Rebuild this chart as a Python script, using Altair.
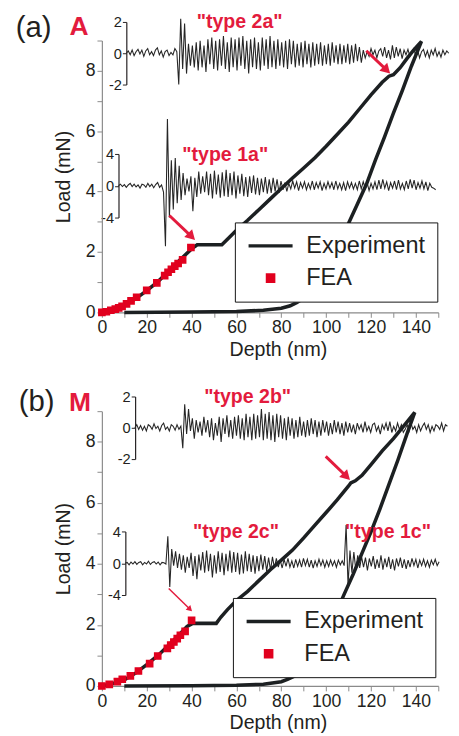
import altair as alt
import pandas as pd

FONT = "Liberation Sans"
INK = "#231f20"
CURVE = "#1c2022"
RED = "#e31b3d"
SQ_RED = "#e1001e"
AXIS_GREY = "#8a8a8a"

# ---------------- panel (a) : material A ----------------
a_load_depth = [0, 3, 6, 10, 15, 20, 25, 30, 35, 40, 42.5, 53.5, 57, 60, 65, 70, 75, 80, 85, 90,
                95, 100, 105, 110, 115, 120, 125, 128, 130, 133, 136, 139, 142.5]
a_load_load = [0, 0.03, 0.09, 0.22, 0.45, 0.72, 1.02, 1.38, 1.75, 2.1, 2.24, 2.24, 2.5, 2.72, 3.05,
               3.4, 3.75, 4.1, 4.45, 4.78, 5.12, 5.5, 5.9, 6.3, 6.75, 7.2, 7.62, 7.82, 7.87, 8.1,
               8.4, 8.68, 8.97]
a_unload_depth = [142.5, 138, 134, 130, 126, 122, 118, 114, 110, 106, 102, 98, 94, 90, 87, 84, 80,
                  72, 60, 40, 10]
a_unload_load = [8.97, 8.15, 7.35, 6.6, 5.8, 5.05, 4.25, 3.6, 2.95, 2.35, 1.8, 1.25, 0.8, 0.48,
                 0.33, 0.22, 0.14, 0.07, 0.03, 0.01, 0.0]
a_fea_depth = [0, 2, 4, 6, 7.5, 9, 11, 13, 15.5, 20, 24.5, 28, 29.5, 31, 32.5, 34, 36, 39.7]
a_fea_load = [0, 0.02, 0.07, 0.11, 0.15, 0.2, 0.28, 0.38, 0.5, 0.73, 0.98, 1.22, 1.33, 1.43,
              1.53, 1.62, 1.74, 2.15]

# acoustic-emission traces (inset units), sampled on a regular depth grid
a_type2_start, a_type2_step = 10.9, 0.866
a_type2_amp = [
    0.0, 0.15, -0.1, 0.2, -0.15, 0.1, 0.25, -0.05, 0.2, -0.2, 0.15, 0.3, -0.1, 0.1, -0.15, 0.2,
    0.35, -0.1, 0.15, -0.25, 0.1, 0.2, -0.15, 0.05, -0.1, 0.3,
    0.1, -2.0, 2.2, -1.0, 1.9, -1.3, 0.6, -0.8, 0.5, -0.9, 0.7, -1.1,
    0.8, -0.9, 0.5, -1.2, 0.9, -0.7, 1.0, -1.0, 0.8, -1.1, 0.9, -0.8, 1.1, -1.0, 0.7, -1.2, 1.0,
    -0.9, 0.9, -1.1, 1.0, -0.8, 1.1, -1.0, 0.8, -1.3, 0.9, -0.9, 1.0, -1.0, 0.7, -1.1, 1.0, -0.8,
    0.9, -1.0, 1.1, -0.9, 0.8, -1.0, 0.9, -0.8, 0.7, -0.9, 0.8, -1.0, 0.9, -0.7, 0.8, -0.9, 0.6,
    -0.8, 0.7, -0.9, 0.8, -0.7, 0.6, -0.9, 0.7, -0.8, 0.6, -0.7, 0.7, -0.8, 0.5, -0.7, 0.6, -0.8,
    0.7, -0.6, 0.5, -0.7, 0.6, -0.7, 0.5, -0.6, 0.6, -0.7, 0.5, -0.6, 0.6, -0.5, 0.4, -0.6,
    0.2, -0.3, 0.1, -0.2, 0.3, -0.1, 0.2, -0.3, 0.15, 0.3, -0.2, 0.4, -0.3, 0.2, -0.4, 0.5, -0.3,
    0.4, -0.2, 0.3, -0.35, 0.2, -0.1, 0.25, -0.2, 0.1, 0.3, -0.15, 0.2, -0.3, 0.1, 0.25, -0.2,
    0.15, -0.3, 0.2, -0.1, 0.3, -0.2, 0.1, -0.25, 0.2, -0.1, 0.15, 0.0]
a_type1_start, a_type1_step = 7.4, 0.873
a_type1_amp = [
    0.0, 0.2, -0.1, 0.15, -0.2, 0.1, 0.3, -0.1, 0.2, -0.15, 0.1, -0.3, 0.2, 0.1, -0.2, 0.3, -0.1,
    0.2, -0.25, 0.15, 0.4, -0.2, 0.1,
    -0.8, -7.6, 8.4, -4.0, 3.2, -3.0, 3.5, -2.2, 2.5, -1.8, 1.6, -1.2, 0.9, -0.7, 1.2, -3.2, 1.0,
    -1.4, 1.8,
    -1.0, 1.2, -0.8, 1.8, -1.2, 1.5, -1.6, 1.9, -1.1, 1.4, -1.5, 1.7, -1.3, 2.0, -1.4, 1.6, -1.2,
    1.8, -1.6, 1.3, -1.0, 1.5, -1.3, 1.1, -1.4, 1.2, -0.9, 1.3, -1.1, 1.0, -1.2, 0.9, -0.8, 1.1,
    -1.0, 0.8, -0.9, 1.0, -0.7, 0.8, -0.9, 0.6,
    -0.5, 0.4, -0.7, 0.3, -0.4, 0.6, -0.3, 0.5, -0.6, 0.4, -0.3, 0.5, -0.5, 0.3, -0.4, 0.6, -0.5,
    0.4, -0.3, 0.5, -0.6, 0.3, -0.4, 0.5, -0.3, 0.4, -0.5, 0.6, -0.4, 0.3, -0.5, 0.4, -0.6, 0.5,
    -0.3, 0.4, -0.4, 0.3, -0.5, 0.6, -0.4, 0.5, -0.3, 0.4, -0.6, 0.3, -0.4, 0.5, -0.5, 0.7, -0.4,
    0.8, -0.3, 0.5, -0.6, 0.4, -0.3, 0.6, -0.5, 0.7, -0.4, 0.3, -0.5, 0.6, -0.4, 0.8, -0.3, 0.7,
    -0.5, 0.4, -0.3, 0.6, -0.4, 0.5, -0.6, 0.3, -0.2, -0.3, -0.5]

# ---------------- panel (b) : material M ----------------
b_load_depth = [0, 5, 10, 15, 20, 25, 30, 35, 38, 40.5, 51, 53, 56, 60, 65, 70, 75, 80, 85, 90,
                95, 100, 105, 110, 111, 113, 116, 120, 125, 130, 135, 139.5]
b_load_load = [0, 0.08, 0.2, 0.42, 0.7, 1.0, 1.35, 1.72, 1.95, 2.05, 2.05, 2.25, 2.5, 2.8, 3.1,
               3.45, 3.8, 4.12, 4.45, 4.85, 5.27, 5.68, 6.1, 6.55, 6.65, 6.72, 6.9, 7.25, 7.7,
               8.1, 8.55, 8.96]
b_unload_depth = [139.5, 136, 132, 128, 124, 120, 116, 112, 108, 104, 100, 96, 92, 89, 86, 83,
                  80, 72, 60, 40, 10]
b_unload_load = [8.96, 8.25, 7.4, 6.6, 5.8, 5.05, 4.35, 3.65, 3.0, 2.32, 1.72, 1.15, 0.7, 0.48,
                 0.33, 0.22, 0.14, 0.06, 0.02, 0.005, 0.0]
b_fea_depth = [0, 3.3, 6.9, 9.1, 12.7, 16.3, 21.3, 24.9, 29.2, 30.7, 32.1, 33.6, 35.0, 37.1, 40.0]
b_fea_load = [0, 0.05, 0.14, 0.22, 0.33, 0.49, 0.73, 0.98, 1.23, 1.34, 1.44, 1.55, 1.66, 1.79,
              2.15]

b_type2_start, b_type2_step = 14.7, 0.855
b_type2_amp = [
    0.0, 0.2, -0.1, 0.15, -0.15, 0.1, -0.2, 0.2, 0.1, -0.1, 0.25, -0.05, 0.1, -0.2, 0.15, 0.3,
    -0.1, 0.05, -0.2, 0.2, 0.1, -0.15, 0.2, -0.1, 0.1,
    -1.3, 1.5, -0.4, 1.2, -0.2, 0.6, -0.7, 0.5, -0.3,
    0.4, -0.5, 0.7, -0.3, 0.5, -0.6, 0.6, -0.8, 0.3, -0.5, 0.7, -0.9, 0.6, -0.4, 0.8, -0.6, 0.5,
    -0.7, 0.7, -0.5, 0.8, -0.7, 0.6, -0.8, 0.9, -0.6, 0.7, -0.8, 0.9, -0.7, 0.8, -0.6, 1.2, -0.8,
    0.9, -0.7, 1.0, -0.8, 0.8, -0.9, 0.9, -0.6, 0.8, -0.7, 0.6, -0.8, 0.7, -0.5, 0.6, -0.7, 0.5,
    -0.6, 0.7, -0.5, 0.4, -0.6, 0.5, -0.5, 0.6, -0.4, 0.5, -0.6, 0.4, -0.5, 0.5, -0.3, 0.4, -0.5,
    0.3, -0.4, 0.5, -0.3, 0.4, -0.4, 0.3, -0.5, 0.4, -0.3, 0.3,
    -0.3, 0.2, -0.4, 0.3, -0.1, 0.2, -0.3, 0.4, -0.2, 0.1, -0.3, 0.2, 0.3, -0.2, 0.1, -0.4, 0.2,
    -0.1, 0.3, -0.2, 0.4, -0.3, 0.1, -0.2, 0.3, -0.1, 0.2, -0.3, -0.1, 0.2, -0.2, 0.3, -0.1, 0.1,
    -0.3, 0.2, -0.2, 0.1, 0.3, -0.1, 0.2, -0.3, 0.1, -0.2, 0.2, 0.1, -0.1, 0.3, -0.2, 0.2, 0.1]
b_type1_start, b_type1_step = 10.4, 0.864
b_type1_amp = [
    0.0, 0.1, -0.2, 0.15, -0.1, 0.2, -0.15, 0.1, 0.2, -0.2, 0.1, -0.1, 0.25, -0.15, 0.1, 0.2,
    -0.1, 0.15, -0.2, 0.1, 0.05, -0.1,
    3.4, -3.0, 1.8, -0.3, 1.5, -0.6,
    1.2, -0.8, 1.0, -1.2, 0.8, -0.6, 1.3, -1.6, 0.9, -2.0, 1.1, -0.9, 1.4, -1.2, 1.6, -1.0, 1.2,
    -1.8, 1.0, -1.3, 1.5, -1.1, 1.3, -1.5, 1.2, -1.0, 1.6, -1.2, 1.4, -1.1, 1.3, -1.4, 1.1, -1.3,
    1.5, -1.0, 1.2, -1.1, 1.0, -1.3, 0.9, -1.0, 1.1, -0.8, 0.9, -1.0, 0.7, -0.9, 0.8, -0.6,
    0.6, -0.5, 0.4, -0.6, 0.5, -0.4, 0.6, -0.5, 0.3, -0.6, 0.5, -0.4, 0.4, -0.5, 0.6, -0.3, 0.5,
    -0.5, 0.4, -0.6, 0.3, -0.4, 0.5, -0.3, 0.4, -0.5, 0.3, -0.4, 0.4, -0.3, 0.3, -0.5, 0.4, -0.2,
    0.3, -0.3,
    4.8, -2.8, 1.6, -1.2, 1.4, -0.8, 1.0,
    -0.6, 0.8, -0.5, 0.7, -0.9, 0.6, -0.4, 0.9, -0.7, 0.5, -0.6, 1.0, -0.8, 0.6, -0.5, 0.8, -0.7,
    0.5, -0.9, 0.6, -0.4, 0.7, -0.6, 0.5, -0.7, 0.4, -0.5, 0.6, -0.3, 0.5, -0.6, 0.4, -0.3, 0.5,
    -0.4, 0.3, -0.5, 0.4, -0.2, 0.5, -0.3, 0.2]

# ---------------- annotations ----------------
a_arrow_x, a_arrow_y = [117.9, 30.1], [8.66, 3.21]
a_arrow_x2, a_arrow_y2 = [127.0, 40.0], [8.02, 2.51]
b_arrow_x, b_arrow_y = [99.8], [7.52]
b_arrow_x2, b_arrow_y2 = [109.1], [6.86]
b_thin_x, b_thin_y = [29.8], [3.19]
b_thin_x2, b_thin_y2 = [39.3], [2.51]

a_tag_text, a_tag_x, a_tag_y = ['"type 2a"', '"type 1a"'], [61.4, 55.0], [9.41, 5.02]
b_tag_text, b_tag_x, b_tag_y = ['"type 2b"', '"type 2c"', '"type 1c"'], [65.0, 59.8, 127.6], [9.28, 4.85, 4.85]

SERIES = ["Experiment", "FEA"]

x_axis = alt.Axis(title="Depth (nm)", values=list(range(0, 151, 10)),
                  labelExpr="datum.value % 20 == 0 ? datum.label : ''",
                  tickSize=5, tickColor=AXIS_GREY, domainColor=AXIS_GREY, domainWidth=1.2,
                  labelFontSize=18, titleFontSize=20, labelColor=INK, titleColor=INK,
                  labelPadding=2, titlePadding=3, labelFlush=False, labelOverlap=False,
                  titleFontWeight="normal", grid=False, titleX=180)
y_axis = alt.Axis(title="Load (mN)", orient="left", values=list(range(0, 10)),
                  labelExpr="datum.value % 2 == 0 ? datum.label : ''",
                  tickSize=5, tickColor=AXIS_GREY, domainColor=AXIS_GREY, domainWidth=1.2,
                  labelFontSize=18, titleFontSize=20, labelColor=INK, titleColor=INK,
                  labelPadding=2, titlePadding=12, labelFlush=False, labelOverlap=False,
                  titleFontWeight="normal", grid=False)
x_scale = alt.Scale(domain=[0, 150], nice=False, zero=False)
y_scale = alt.Scale(domain=[0, 9], nice=False, zero=False)


def X(field):
    return alt.X(f"{field}:Q", scale=x_scale, axis=x_axis)


def Y(field):
    return alt.Y(f"{field}:Q", scale=y_scale, axis=y_axis)


def panel(load_d, load_l, unload_d, unload_l, fea_d, fea_l, traces, arrows, thin_arrows,
          label, letter, label_x, label_y, tags, legend_xy, height):
    depth = load_d + unload_d
    load = load_l + unload_l
    exp = pd.DataFrame({"depth": depth, "load": load, "order": list(range(len(depth))),
                        "series": "Experiment"})
    fea = pd.DataFrame({"depth": fea_d, "load": fea_l, "series": "FEA"})

    legend = alt.Legend(title=None, orient="none", legendX=legend_xy[0], legendY=legend_xy[1],
                        labelFont=FONT, labelFontSize=24, labelColor=INK, padding=12,
                        strokeColor="#111111", fillColor="white", symbolStrokeWidth=3.5,
                        clipHeight=24, rowPadding=9, labelOffset=12, symbolOpacity=1,
                        labelLimit=300)
    stroke_scale = alt.Scale(domain=SERIES, range=[CURVE, SQ_RED])
    shape_scale = alt.Scale(domain=SERIES, range=["stroke", "square"])
    size_scale = alt.Scale(domain=SERIES, range=[2025, 40])

    exp_line = alt.Chart(exp).mark_line(strokeWidth=3.6, clip=False).encode(
        x=X("depth"), y=Y("load"), order="order:Q",
        stroke=alt.Stroke("series:N", scale=stroke_scale, legend=legend))
    fea_pts = alt.Chart(fea).mark_point(filled=True, opacity=1, strokeWidth=1.5, clip=False).encode(
        x=X("depth"), y=Y("load"),
        fill=alt.Fill("series:N", scale=stroke_scale, legend=legend),
        stroke=alt.Stroke("series:N", scale=stroke_scale, legend=legend),
        shape=alt.Shape("series:N", scale=shape_scale, legend=legend),
        size=alt.Size("series:N", scale=size_scale, legend=legend))

    layers = []
    for ax, ay, ax2, ay2, width, head in arrows + thin_arrows:
        adf = pd.DataFrame({"x": ax, "y": ay, "x2": ax2, "y2": ay2})
        layers.append(alt.Chart(adf).mark_rule(color=RED, strokeWidth=width, clip=False).encode(
            x=X("x"), y=Y("y"), x2="x2:Q", y2="y2:Q"))
        layers.append(alt.Chart(adf).mark_point(shape="triangle-up", filled=True, opacity=1,
                                                 color=RED, size=head, angle=135, clip=False).encode(
            x=X("x2"), y=Y("y2")))

    lab = pd.DataFrame({"x": [label_x[0]], "y": [label_y[0]], "t": [label]})
    let = pd.DataFrame({"x": [label_x[1]], "y": [label_y[1]], "t": [letter]})
    tg = pd.DataFrame({"x": tags[1], "y": tags[2], "t": tags[0]})
    texts = [
        alt.Chart(lab).mark_text(font=FONT, fontSize=30, color=INK, align="left",
                                 baseline="alphabetic").encode(x=X("x"), y=Y("y"), text="t:N"),
        alt.Chart(let).mark_text(font=FONT, fontSize=27, fontWeight="bold", color=RED,
                                 align="left", baseline="alphabetic").encode(
            x=X("x"), y=Y("y"), text="t:N"),
        alt.Chart(tg).mark_text(font=FONT, fontSize=20, fontWeight="bold", color=RED,
                                align="center", baseline="alphabetic").encode(
            x=X("x"), y=Y("y"), text="t:N"),
    ]

    trace_layers = []
    for amp, start, step, dom, rng, off in traces:
        tdf = pd.DataFrame({"depth": [start + i * step for i in range(len(amp))], "amp": amp})
        trace_layers.append(alt.Chart(tdf).mark_line(color="#262626", strokeWidth=1.1,
                                                     clip=False).encode(
            x=X("depth"),
            y=alt.Y("amp:Q", scale=alt.Scale(domain=dom, range=rng, nice=False, zero=False),
                    axis=alt.Axis(orient="left", offset=off, values=[dom[0], 0, dom[1]],
                                  labelExpr="'' + datum.value", title=None, tickSize=4,
                                  tickColor=INK, domainColor=INK, domainWidth=1.2,
                                  labelColor=INK, labelFontSize=15, labelPadding=1,
                                  labelFlush=False, labelOverlap=False, grid=False))))

    main = alt.layer(exp_line, fea_pts, *layers, *texts)
    return alt.layer(*trace_layers, main).resolve_scale(y="independent").resolve_axis(
        y="independent").properties(width=344, height=height)


pa = panel(a_load_depth, a_load_load, a_unload_depth, a_unload_load, a_fea_depth, a_fea_load,
           [(a_type2_amp, a_type2_start, a_type2_step, [-2, 2], [45, -19], -25),
            (a_type1_amp, a_type1_start, a_type1_step, [-4, 4], [181, 116], -17)],
           [(a_arrow_x, a_arrow_y, a_arrow_x2, a_arrow_y2, 3, 130)], [],
           "(a)", "A", [-38.4, -14.4], [9.11, 9.18],
           (a_tag_text, a_tag_x, a_tag_y), (136, 186), 278)
pb = panel(b_load_depth, b_load_load, b_unload_depth, b_unload_load, b_fea_depth, b_fea_load,
           [(b_type2_amp, b_type2_start, b_type2_step, [-2, 2], [49, -15], -34),
            (b_type1_amp, b_type1_start, b_type1_step, [-4, 4], [188, 123], -24)],
           [(b_arrow_x, b_arrow_y, b_arrow_x2, b_arrow_y2, 3, 130)],
           [(b_thin_x, b_thin_y, b_thin_x2, b_thin_y2, 1.5, 45)],
           "(b)", "M", [-37.1, -14.7], [9.02, 9.02],
           (b_tag_text, b_tag_x, b_tag_y), (134, 191), 281)

chart = alt.vconcat(pa, pb, spacing=28).resolve_scale(
    x="independent", y="independent", stroke="independent", fill="independent",
    shape="independent", size="independent").resolve_legend(
    stroke="independent", fill="independent", shape="independent", size="independent"
).properties(padding={"left": 7, "top": -4, "right": 0, "bottom": 0}, background="white"
).configure_view(stroke=None).configure_axis(labelFont=FONT, titleFont=FONT)

chart.save("out.html", embed_options={"renderer": "svg", "actions": False})
